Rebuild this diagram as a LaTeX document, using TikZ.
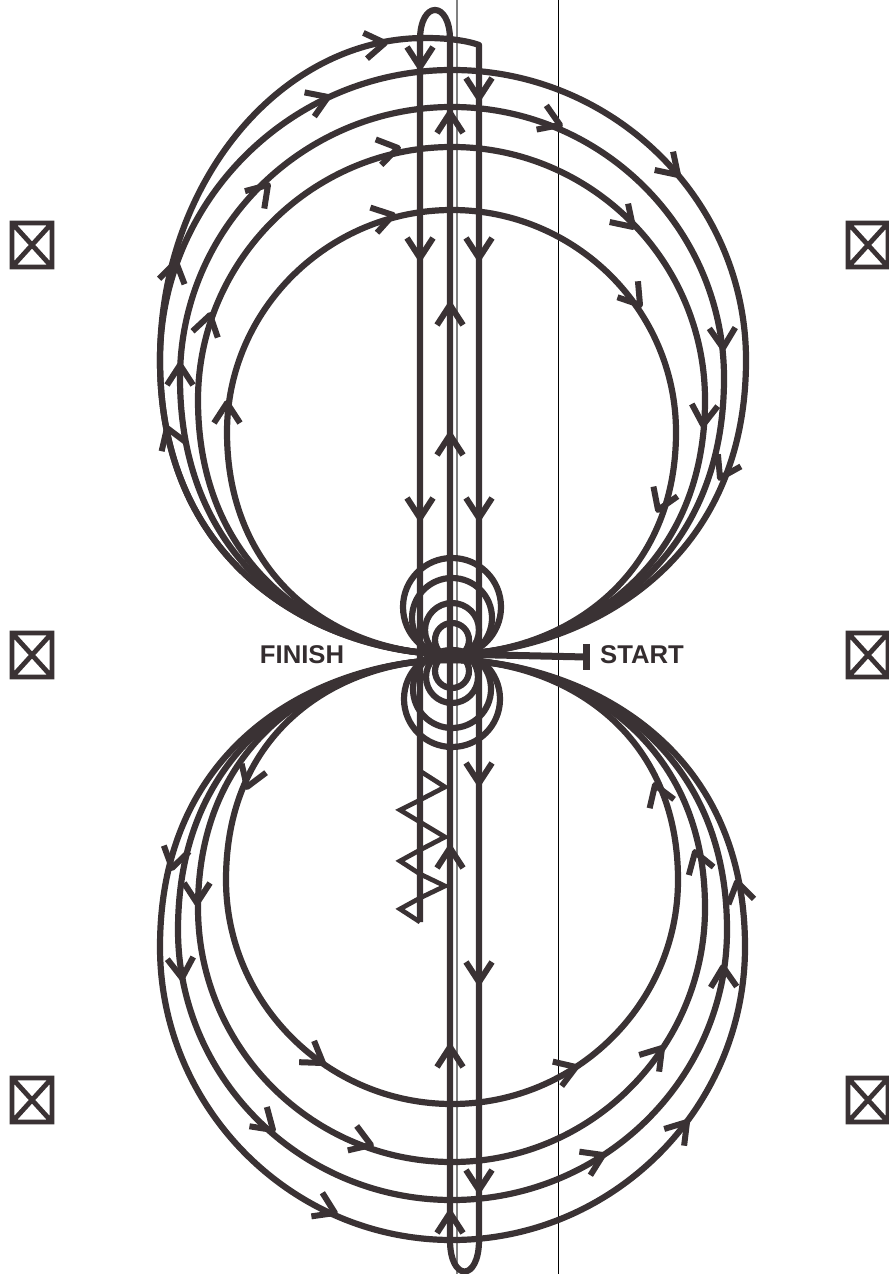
\documentclass[tikz,border=0pt]{standalone}
\usepackage{fontspec}
\setmainfont{Liberation Sans}
\usetikzlibrary{calc}
\definecolor{inkdark}{HTML}{3A3234}
\tikzset{
  strand/.style={draw=inkdark, line width=0.062cm, line join=round},
  barb/.style={draw=inkdark, line width=0.06cm, line join=round},
  thinrule/.style={draw=#1, line width=0.012cm},
  markbox/.style={draw=inkdark, line width=0.048cm},
  zigflag/.style={draw=inkdark, line width=0.047cm, line join=miter},
  tag/.style={font=\bfseries\fontsize{7.3}{8}\selectfont, text=inkdark!90!black, inner sep=0pt}
}
\begin{document}
\begin{tikzpicture}[x=0.01cm, y=-0.01cm]
\useasboundingbox (0,0) rectangle (889,1274);
\coordinate (hubup) at (450,654);
\coordinate (hubdown) at (450,660);
\coordinate (stubbar) at (586,657);
\node[tag] (finish) at (302,655) {FINISH};
\node[tag] (start) at (642,655) {START};

\draw[thinrule=gray] (457,0) -- (457,1274);
\draw[thinrule=black] (558.5,0) -- (558.5,1274);

\foreach \xl/\xr/\yw/\yt in {227/676/432/210, 198/705/400/147, 180/724/378/107, 160/746/360/70}
  \draw[strand] (hubup) .. controls (345,655) and (\xl,585) .. (\xl,\yw)
    .. controls (\xl,{\yw-0.55*(\yw-\yt)}) and ({452-0.55*(452-\xl)},\yt) .. (452,\yt)
    .. controls ({452+0.55*(\xr-452)},\yt) and (\xr,{\yw-0.55*(\yw-\yt)}) .. (\xr,\yw)
    .. controls (\xr,585) and (555,655) .. (hubup);
\foreach \xl/\xr/\yw/\yb in {226/678/880/1104, 198/705/908/1162, 178/727/930/1200, 160/745/947/1240}
  \draw[strand] (hubdown) .. controls (345,659) and (\xl,725) .. (\xl,\yw)
    .. controls (\xl,{\yw+0.55*(\yb-\yw)}) and ({452-0.55*(452-\xl)},\yb) .. (452,\yb)
    .. controls ({452+0.55*(\xr-452)},\yb) and (\xr,{\yw+0.55*(\yb-\yw)}) .. (\xr,\yw)
    .. controls (\xr,725) and (555,659) .. (hubdown);

\foreach \sx in {1,-1} {
  \fill[inkdark, shift={(450,0)}, xscale=\sx] (0,654) .. controls (52.5,654.5) and (126.5,637) .. (187,592)
    -- (152,601) .. controls (109,637) and (52.5,654.5) .. (0,654);
  \fill[inkdark, shift={(450,0)}, xscale=\sx] (0,660) .. controls (52.5,659.5) and (126,676) .. (187,720)
    -- (152,711) .. controls (109.5,676) and (52.5,659.5) .. (0,660);
}

\draw[strand] (hubup) .. controls (345,655) and (160,585) .. (160,360)
  .. controls (160,183) and (280,38) .. (425,38)
  .. controls (445,38) and (465,40) .. (479,45) -- (479,1240)
  .. controls (479,1282) and (450,1282) .. (450,1240) -- (450,40)
  .. controls (450,0) and (420,0) .. (420,40) -- (420,922);

\foreach \cy/\rr in {607/49, 618/40, 630/27, 640/17, 699/48, 689/39, 677/26, 671/17}
  \draw[strand] (452,\cy) circle (\rr);

\draw[strand, line width=0.07cm] (hubup) -- (stubbar);
\draw[strand, line width=0.07cm] ($(stubbar)+(0,-13)$) -- ($(stubbar)+(0,13)$);

\draw[zigflag] (420,771) -- (445,787) -- (420,800) -- (400,810) -- (420,822) -- (445,837)
  -- (420,850) -- (400,861) -- (420,874) -- (445,886) -- (420,898) -- (400,909) -- (420,922);

\foreach \px/\py/\dir in {
  176/262/-78, 180/365/-90, 210/315/-76, 227/403/-90, 167/428/-110,
  268/185/-48, 328/97/-22, 385/43/-8, 398/148/-12, 393/215/-15,
  560/125/22, 678/175/45, 633/227/45, 640/305/52, 723/348/88, 703/425/95, 720/478/118, 658/510/112,
  420/67/90, 420/258/90, 420/518/90, 479/98/90, 479/258/90, 479/518/90, 479/783/90, 479/982/90, 479/1190/90,
  450/113/-90, 450/305/-90, 450/435/-90, 450/848/-90, 450/1047/-90, 450/1213/-90,
  247/787/110, 172/868/103, 197/903/90, 182/978/85,
  323/1063/35, 371/1145/20, 273/1130/42, 335/1213/25,
  576/1067/-20, 662/1048/-50, 603/1155/-25, 687/1122/-50,
  655/785/-110, 695/852/-108, 737/882/-102, 723/967/-92}
  \draw[barb, shift={(\px,\py)}, rotate=-\dir] (-20,-13) -- (0,0) -- (-20,13);

\foreach \mx in {32,868}
  \foreach \my in {245,655,1100}
    \draw[markbox] (\mx-20,\my-22) rectangle (\mx+20,\my+22)
      (\mx-20,\my-22) -- (\mx+20,\my+22) (\mx-20,\my+22) -- (\mx+20,\my-22);
\end{tikzpicture}
\end{document}
